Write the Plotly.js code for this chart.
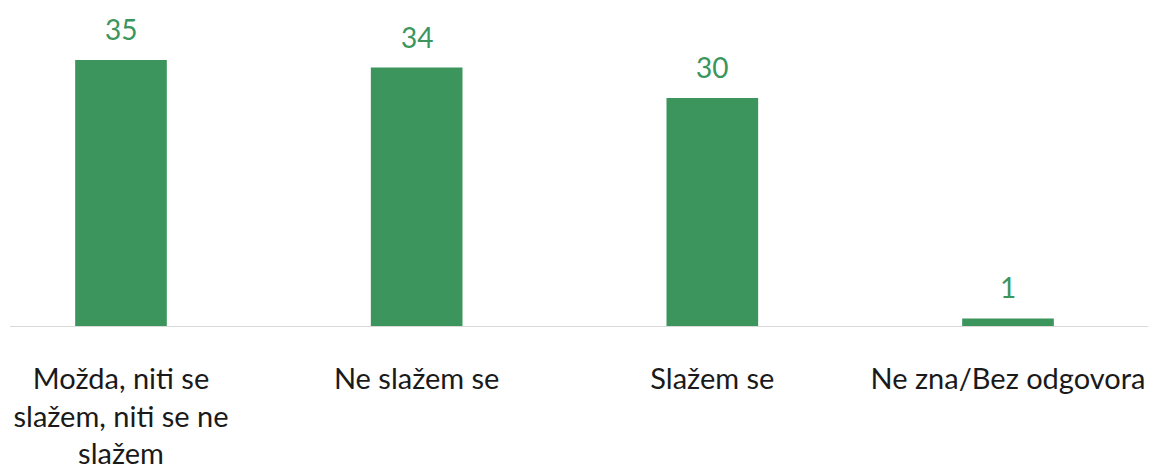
<!DOCTYPE html>
<html>
<head>
<meta charset="utf-8">
<script src="https://cdn.plot.ly/plotly-3.0.1.min.js"></script>
<style>html,body{margin:0;padding:0;background:#fff;}#chart{width:1152px;height:471px;}</style>
</head>
<body>
<div id="chart"></div>
<script>
const categories = ["Možda, niti se<br>slažem, niti se ne<br>slažem", "Ne slažem se", "Slažem se", "Ne zna/Bez odgovora"];
const values = [35, 34, 30, 1];
const valueLabels = ["35", "34", "30", "1"];

const green = "#3B955D";
const FONT = "Lato, 'Open Sans', sans-serif";

const xIdx = categories.map((c, i) => i);

const trace = {
  type: "bar",
  x: xIdx,
  y: values,
  width: 0.31,
  marker: {color: green},
  hoverinfo: "none"
};

const annotations = values.map((v, i) => ({
  x: i, y: v, xref: "x", yref: "y",
  text: valueLabels[i],
  showarrow: false,
  yanchor: "bottom",
  yshift: 12,
  font: {family: FONT, size: 28, color: green}
}));

const layout = {
  width: 1152, height: 471,
  margin: {l: 10, r: 4, t: 20, b: 145},
  paper_bgcolor: "#fff",
  plot_bgcolor: "#fff",
  showlegend: false,
  xaxis: {
    range: [-0.3754, 3.4735],
    tickmode: "array",
    tickvals: xIdx,
    ticktext: categories,
    showgrid: false,
    zeroline: false,
    showline: false,
    ticks: "",
    ticklabelstandoff: 33,
    tickfont: {family: FONT, size: 29, color: "#1a1a1a"}
  },
  yaxis: {
    range: [0, 40.26],
    showgrid: false,
    zeroline: true,
    zerolinecolor: "#d9d9d9",
    zerolinewidth: 1,
    showticklabels: false,
    ticks: ""
  },
  annotations: annotations
};

Plotly.newPlot("chart", [trace], layout, {displayModeBar: false, staticPlot: true});
</script>
</body>
</html>
